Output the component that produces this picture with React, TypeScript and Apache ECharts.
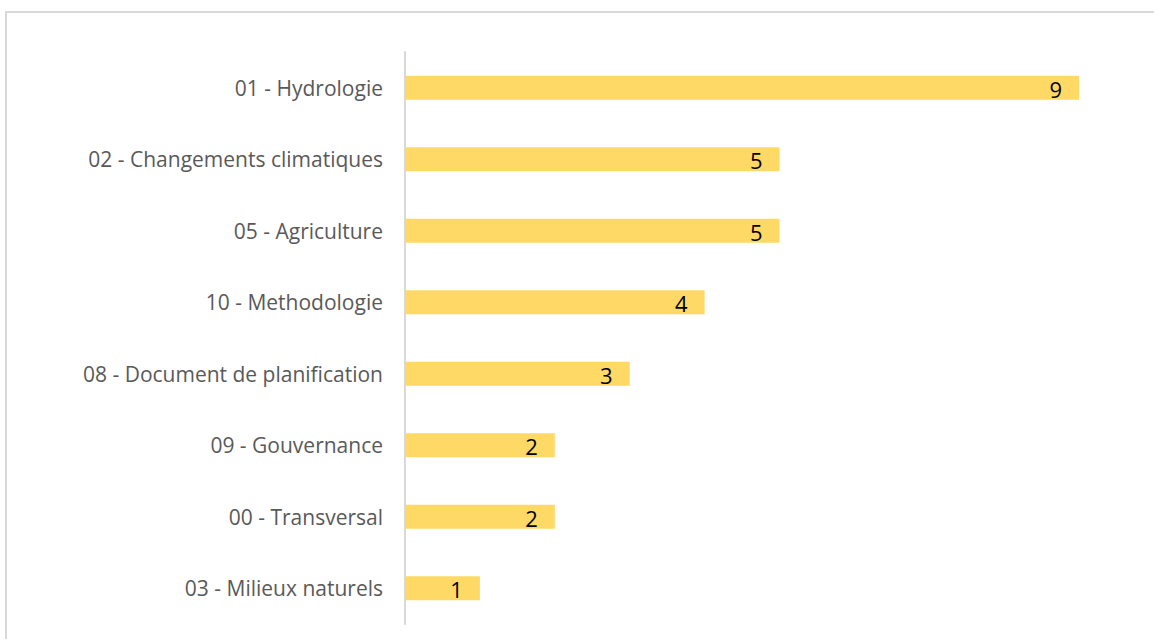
import React, { useEffect, useRef } from "react";
import * as echarts from "echarts";

const categories = [
  "01 - Hydrologie",
  "02 - Changements climatiques",
  "05 - Agriculture",
  "10 - Methodologie",
  "08 - Document de planification",
  "09 - Gouvernance",
  "00 - Transversal",
  "03 - Milieux naturels",
];
const values = [9, 5, 5, 4, 3, 2, 2, 1];

export default function App() {
  const ref = useRef<HTMLDivElement>(null);
  useEffect(() => {
    const chart = echarts.init(ref.current!, null, { renderer: "svg" });
    chart.setOption({
      animation: false,
      backgroundColor: "#ffffff",
      graphic: [
        {
          type: "rect",
          shape: { x: 6, y: 12, width: 2000, height: 2000 },
          style: { fill: "none", stroke: "#d9d9d9", lineWidth: 2 },
          silent: true,
        },
      ],
      grid: { left: 405, right: 0, top: 52, bottom: 15, containLabel: false },
      xAxis: {
        type: "value",
        min: 0,
        max: 10,
        show: false,
      },
      yAxis: {
        type: "category",
        inverse: true,
        data: categories,
        axisLine: { show: true, lineStyle: { color: "#d9d9d9", width: 2 } },
        axisTick: { show: false },
        axisLabel: {
          color: "#595959",
          fontSize: 21,
          fontFamily: "Open Sans",
          margin: 22,
        },
        splitLine: { show: false },
      },
      series: [
        {
          type: "bar",
          data: values,
          barWidth: 24,
          itemStyle: { color: "#FFD966" },
          label: {
            show: true,
            position: "insideRight",
            distance: 17,
            color: "#000000",
            fontSize: 22,
            fontFamily: "Open Sans",
            offset: [0, 1],
          },
        },
      ],
    });
    return () => chart.dispose();
  }, []);
  return (
    <div
      ref={ref}
      style={{ position: "absolute", left: 0, top: 0, width: 1154, height: 639 }}
    />
  );
}
